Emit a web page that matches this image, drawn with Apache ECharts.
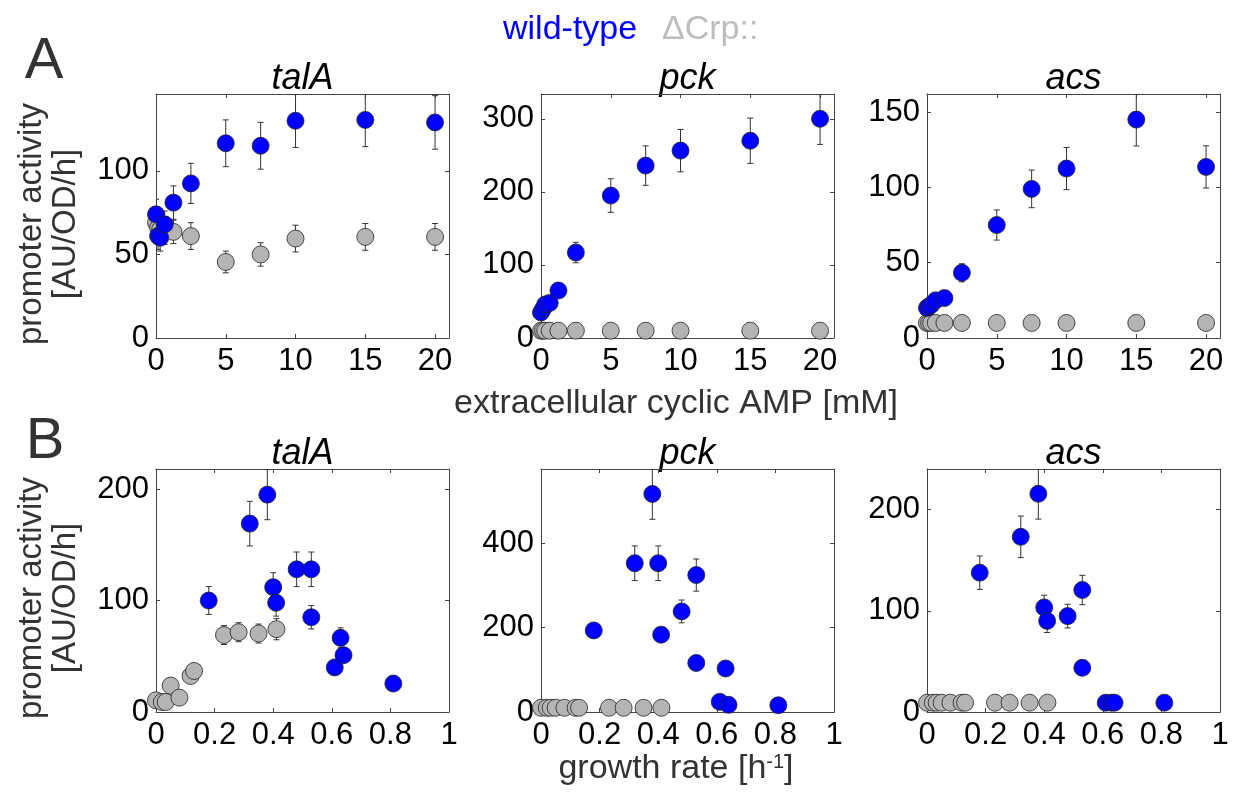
<!DOCTYPE html>
<html>
<head>
<meta charset="utf-8">
<script src="https://cdn.jsdelivr.net/npm/echarts@6/dist/echarts.min.js"></script>
<style>html,body{margin:0;padding:0;background:#fff;}#chart{width:1235px;height:801px;}</style>
</head>
<body>
<div id="chart"></div>
<script>
// ---------------- DATA ----------------
const geneNames = ['talA', 'pck', 'acs'];
const legendLabels = ['wild-type', '\u0394Crp::'];
const xTitleA = 'extracellular cyclic AMP [mM]';
const yTitleLine1 = 'promoter activity';
const yTitleLine2 = '[AU/OD/h]';

// Row A: extracellular cAMP (mM)
const cAMP = [0, 0.15, 0.3, 0.625, 1.25, 2.5, 5, 7.5, 10, 15, 20];
const A_talA_wt      = [74, 61, 60, 68, 81, 92.5, 116.5, 115, 130, 130.5, 129];
const A_talA_wt_err  = [9, 8, 8, 8, 10, 12, 14, 14, 16, 16, 16];
const A_talA_crp     = [69, 66, 65, 64, 63.5, 61, 45.5, 50, 59.5, 60.5, 60.5];
const A_talA_crp_err = [8, 8, 8, 8, 7, 8, 6.5, 7, 8, 8, 8];
const A_pck_wt       = [35, 40, 46, 48, 65, 117, 195, 236, 256.5, 270, 300];
const A_pck_wt_err   = [3, 3, 3, 4, 5, 14, 23, 27, 29, 31, 35];
const A_pck_crp      = [10, 10, 10, 10, 10, 10, 10, 10, 10, 10, 10];
const A_pck_crp_err  = [1, 1, 1, 1, 1, 1, 1, 1, 1, 1, 1];
const A_acs_wt       = [20, 21, 22, 25, 26.5, 43.3, 75, 99, 112.5, 145, 113.6];
const A_acs_wt_err   = [2, 2, 2, 2, 2, 6, 10, 12.5, 14, 17.5, 14];
const A_acs_crp      = [10, 10, 10, 10, 10, 10, 10, 10, 10, 10, 10];
const A_acs_crp_err  = [1, 1, 1, 1, 1, 1, 1, 1, 1, 1, 1];

// Row B: growth rate (1/h)
const gr_wt  = [0.18, 0.32, 0.38, 0.40, 0.41, 0.48, 0.53, 0.53, 0.61, 0.63, 0.64, 0.81];
const gr_crp = [0, 0.02, 0.033, 0.05, 0.08, 0.118, 0.13, 0.232, 0.282, 0.35, 0.411];
const B_talA_wt      = [100, 169, 195, 112, 98, 128, 128, 85, 40, 66.5, 51, 25.5];
const B_talA_wt_err  = [12.5, 20, 22.5, 13, 12, 15.5, 15.5, 10.5, 4, 9, 5, 3];
const B_talA_crp     = [10.5, 9, 9, 23.7, 12.9, 32.3, 36.8, 69, 71.6, 70.4, 74.3];
const B_talA_crp_err = [1, 1, 1, 2, 2, 3, 3, 8.5, 8.5, 8.5, 9.5];
const B_pck_wt       = [193, 352, 516, 352, 183, 238, 324, 116, 24, 103, 17, 16];
const B_pck_wt_err   = [15, 41, 60, 41, 15, 27, 38, 8, 4, 8, 3, 3];
const B_pck_crp      = [10, 10, 10, 10, 10, 10, 10, 10, 10, 10, 10];
const B_pck_crp_err  = [1, 1, 1, 1, 1, 1, 1, 1, 1, 1, 1];
const B_acs_wt       = [137.6, 173, 215.5, 103.3, 90, 94.7, 120.5, 43.6, 9.2, 9.2, 9.2, 9.2];
const B_acs_wt_err   = [16.5, 20.5, 25, 12, 11.5, 11.7, 14.5, 3, 1, 1, 1, 1];
const B_acs_crp      = [9.2, 9.2, 9.2, 9.2, 9.2, 9.2, 9.2, 9.2, 9.2, 9.2, 9.2];
const B_acs_crp_err  = [1, 1, 1, 1, 1, 1, 1, 1, 1, 1, 1];

// Tick labels
const ticksA_x = [0, 5, 10, 15, 20];
const ticksB_x = [0, 0.2, 0.4, 0.6, 0.8, 1];
const ticksA_talA_y = [0, 50, 100];
const ticksA_pck_y  = [0, 100, 200, 300];
const ticksA_acs_y  = [0, 50, 100, 150];
const ticksB_talA_y = [0, 100, 200];
const ticksB_pck_y  = [0, 200, 400];
const ticksB_acs_y  = [0, 100, 200];

// ---------------- STYLE / LAYOUT ----------------
const FONT = '"Liberation Sans", Arial, Helvetica, sans-serif';
const BLUE = '#0000ff';
const GRAY = '#b4b4b4';
const AXIS = '#444444';
const lefts = [156, 541, 927];
const W = 293;
const rows = [{top: 94, height: 244}, {top: 469, height: 243}];

const panels = [
  {row:0, col:0, x:cAMP, xc:cAMP, wt:A_talA_wt, we:A_talA_wt_err, crp:A_talA_crp, ce:A_talA_crp_err, xMax:21, xInt:5, xTicks:ticksA_x, yMax:146, yInt:50, yTicks:ticksA_talA_y},
  {row:0, col:1, x:cAMP, xc:cAMP, wt:A_pck_wt,  we:A_pck_wt_err,  crp:A_pck_crp,  ce:A_pck_crp_err,  xMax:21, xInt:5, xTicks:ticksA_x, yMax:334, yInt:100, yTicks:ticksA_pck_y},
  {row:0, col:2, x:cAMP, xc:cAMP, wt:A_acs_wt,  we:A_acs_wt_err,  crp:A_acs_crp,  ce:A_acs_crp_err,  xMax:21, xInt:5, xTicks:ticksA_x, yMax:162, yInt:50, yTicks:ticksA_acs_y},
  {row:1, col:0, x:gr_wt, xc:gr_crp, wt:B_talA_wt, we:B_talA_wt_err, crp:B_talA_crp, ce:B_talA_crp_err, xMax:1, xInt:0.2, xTicks:ticksB_x, yMax:218, yInt:100, yTicks:ticksB_talA_y},
  {row:1, col:1, x:gr_wt, xc:gr_crp, wt:B_pck_wt,  we:B_pck_wt_err,  crp:B_pck_crp,  ce:B_pck_crp_err,  xMax:1, xInt:0.2, xTicks:ticksB_x, yMax:575, yInt:200, yTicks:ticksB_pck_y},
  {row:1, col:2, x:gr_wt, xc:gr_crp, wt:B_acs_wt,  we:B_acs_wt_err,  crp:B_acs_crp,  ce:B_acs_crp_err,  xMax:1, xInt:0.2, xTicks:ticksB_x, yMax:240, yInt:100, yTicks:ticksB_acs_y}
];

function tickFormatter(list) {
  return function (v) {
    for (const t of list) { if (Math.abs(v - t) < 1e-9) return String(t); }
    return '';
  };
}

function errRender(params, api) {
  const x = api.value(0), y = api.value(1), e = api.value(2);
  const t = api.coord([x, y + e]);
  const b = api.coord([x, y - e]);
  const cw = 3;
  const st = {stroke: '#333', lineWidth: 1};
  return {type: 'group', children: [
    {type: 'line', shape: {x1: t[0], y1: t[1], x2: b[0], y2: b[1]}, style: st},
    {type: 'line', shape: {x1: t[0] - cw, y1: t[1], x2: t[0] + cw, y2: t[1]}, style: st},
    {type: 'line', shape: {x1: b[0] - cw, y1: b[1], x2: b[0] + cw, y2: b[1]}, style: st}
  ]};
}

const grids = [], xAxes = [], yAxes = [], series = [], graphics = [];
const tickFont = {fontFamily: FONT, fontSize: 31, color: '#000'};

panels.forEach((p, i) => {
  const r = rows[p.row];
  grids.push({left: lefts[p.col], top: r.top, width: W, height: r.height, containLabel: false});
  const axLine = {show: true, onZero: false, lineStyle: {color: AXIS, width: 1}};
  const axTick = {show: true, inside: true, length: 4, lineStyle: {color: AXIS}};
  xAxes.push({type: 'value', gridIndex: i, position: 'bottom', min: 0, max: p.xMax, interval: p.xInt,
    axisLine: axLine, axisTick: axTick, splitLine: {show: false},
    axisLabel: Object.assign({margin: 8, formatter: tickFormatter(p.xTicks)}, tickFont)});
  xAxes.push({type: 'value', gridIndex: i, position: 'top', min: 0, max: p.xMax, interval: p.xInt,
    axisLine: axLine, axisTick: axTick, splitLine: {show: false}, axisLabel: {show: false}});
  yAxes.push({type: 'value', gridIndex: i, position: 'left', min: 0, max: p.yMax, interval: p.yInt,
    axisLine: axLine, axisTick: axTick, splitLine: {show: false},
    axisLabel: Object.assign({margin: 7, formatter: tickFormatter(p.yTicks)}, tickFont)});
  yAxes.push({type: 'value', gridIndex: i, position: 'right', min: 0, max: p.yMax, interval: p.yInt,
    axisLine: axLine, axisTick: axTick, splitLine: {show: false}, axisLabel: {show: false}});
  const xi = 2 * i, yi = 2 * i;
  series.push({type: 'custom', name: 'crp-err', xAxisIndex: xi, yAxisIndex: yi, clip: true, silent: true, z: 1,
    encode: {x: 0, y: 1}, renderItem: errRender,
    data: p.xc.map((v, k) => [v, p.crp[k], p.ce[k]])});
  series.push({type: 'scatter', name: legendLabels[1], xAxisIndex: xi, yAxisIndex: yi, clip: false, silent: true, z: 2,
    symbol: 'circle', symbolSize: 17,
    itemStyle: {color: GRAY, borderColor: '#222', borderWidth: 0.8, opacity: 1},
    data: p.xc.map((v, k) => [v, p.crp[k]])});
  series.push({type: 'custom', name: 'wt-err', xAxisIndex: xi, yAxisIndex: yi, clip: true, silent: true, z: 3,
    encode: {x: 0, y: 1}, renderItem: errRender,
    data: p.x.map((v, k) => [v, p.wt[k], p.we[k]])});
  series.push({type: 'scatter', name: legendLabels[0], xAxisIndex: xi, yAxisIndex: yi, clip: false, silent: true, z: 4,
    symbol: 'circle', symbolSize: 17,
    itemStyle: {color: BLUE, borderColor: '#222', borderWidth: 0.8, opacity: 1},
    data: p.x.map((v, k) => [v, p.wt[k]])});
  // panel title (gene name)
  graphics.push({type: 'text', x: lefts[p.col] + W / 2, y: r.top - 15,
    style: {text: geneNames[p.col], fontFamily: FONT, fontSize: 36, fontStyle: 'italic', fill: '#000',
      textAlign: 'center', textVerticalAlign: 'middle'}});
});

// Legend (text only)
graphics.push({type: 'text', x: 503, y: 30, style: {text: legendLabels[0], fontFamily: FONT, fontSize: 34, fill: BLUE, textAlign: 'left', textVerticalAlign: 'middle'}});
graphics.push({type: 'text', x: 662, y: 30, style: {text: legendLabels[1], fontFamily: FONT, fontSize: 34, fill: '#bdbdbd', textAlign: 'left', textVerticalAlign: 'middle'}});

// Panel letters
graphics.push({type: 'text', x: 44, y: 62, style: {text: 'A', fontFamily: FONT, fontSize: 58, fill: '#333', textAlign: 'center', textVerticalAlign: 'middle'}});
graphics.push({type: 'text', x: 45, y: 442, style: {text: 'B', fontFamily: FONT, fontSize: 58, fill: '#333', textAlign: 'center', textVerticalAlign: 'middle'}});

// Y-axis titles (rotated)
[224, 598].forEach(cy => {
  graphics.push({type: 'text', x: 32, y: cy, rotation: Math.PI / 2,
    style: {text: yTitleLine1, fontFamily: FONT, fontSize: 33, fill: '#333', textAlign: 'center', textVerticalAlign: 'middle'}});
  graphics.push({type: 'text', x: 66, y: cy, rotation: Math.PI / 2,
    style: {text: yTitleLine2, fontFamily: FONT, fontSize: 33, fill: '#333', textAlign: 'center', textVerticalAlign: 'middle'}});
});

// X-axis titles
graphics.push({type: 'text', x: 676, y: 404, style: {text: xTitleA, fontFamily: FONT, fontSize: 34, fill: '#333', textAlign: 'center', textVerticalAlign: 'middle'}});
graphics.push({type: 'text', x: 676, y: 769, style: {
  text: '{a|growth rate [h}{s|-1}{a|]}', fontFamily: FONT, textAlign: 'center', textVerticalAlign: 'middle',
  rich: {a: {fontFamily: FONT, fontSize: 34, fill: '#333', color: '#333'},
         s: {fontFamily: FONT, fontSize: 20, fill: '#333', color: '#333', verticalAlign: 'top', padding: [0, 0, 14, 0]}}}});

const chart = echarts.init(document.getElementById('chart'), null, {renderer: 'canvas'});
chart.setOption({
  backgroundColor: '#ffffff',
  animation: false,
  grid: grids,
  xAxis: xAxes,
  yAxis: yAxes,
  series: series,
  graphic: graphics
});
</script>
</body>
</html>
